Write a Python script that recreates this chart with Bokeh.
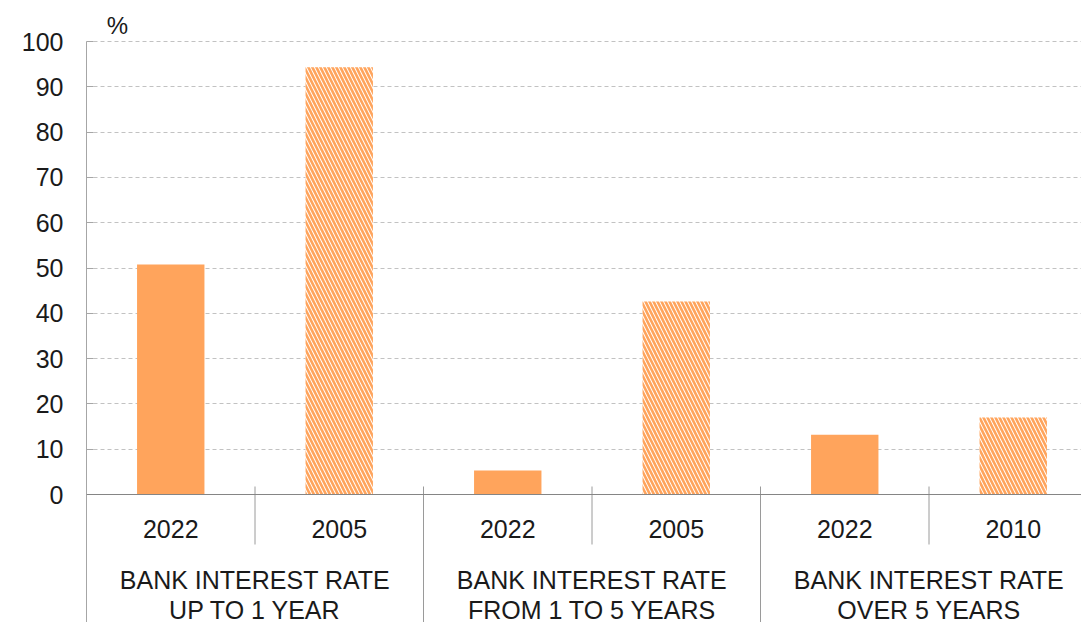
from bokeh.plotting import figure
from bokeh.models import Range1d, FixedTicker, Span, ColumnDataSource
from bokeh.core.properties import value
from bokeh.embed import file_html
from bokeh.resources import INLINE

# ---- data ----
years = ["2022", "2005", "2022", "2005", "2022", "2010"]
values = [50.8, 94.3, 5.3, 42.6, 13.2, 17.0]
hatched = [False, True, False, True, False, True]
groups = ["BANK INTEREST RATE\nUP TO 1 YEAR",
          "BANK INTEREST RATE\nFROM 1 TO 5 YEARS",
          "BANK INTEREST RATE\nOVER 5 YEARS"]
y_ticks = [0, 10, 20, 30, 40, 50, 60, 70, 80, 90, 100]
unit_label = "%"

# ---- layout / style ----
ORANGE = "#FFA45C"
TEXT = "#1a1a1a"
FONT = value("Liberation Sans")
FS = "25px"
PXU = 4.53          # pixels per percentage point
SLOT = 168.5        # pixels per bar slot
W, H = 1081, 622
LEFT = 86
ZERO_PX = 494       # y of value 0 from figure top
y_top = ZERO_PX / PXU
y_bot = -(H - ZERO_PX) / PXU
x_end = (W - LEFT) / SLOT

p = figure(width=W, height=H, output_backend="svg", toolbar_location=None,
           x_range=Range1d(0, x_end), y_range=Range1d(y_bot, y_top),
           x_axis_type=None, min_border_left=LEFT, min_border_right=0,
           min_border_top=0, min_border_bottom=0)
p.outline_line_color = None
p.background_fill_color = "white"
p.border_fill_color = "white"

ax = p.yaxis[0]
ax.ticker = FixedTicker(ticks=y_ticks)
ax.bounds = (y_bot, y_ticks[-1])
ax.axis_line_color = "#a6a6a6"
ax.major_tick_in = 7
ax.major_tick_out = 0
ax.major_tick_line_color = "#a6a6a6"
ax.minor_tick_line_color = None
ax.major_label_standoff = 23
ax.major_label_text_font = "Liberation Sans"
ax.major_label_text_font_size = FS
ax.major_label_text_color = TEXT

p.ygrid.ticker = FixedTicker(ticks=y_ticks[1:])
p.ygrid.grid_line_color = "#c2c2c2"
p.ygrid.grid_line_dash = "4 3"
p.ygrid.grid_line_width = 1

xs = [i + 0.5 for i in range(len(values))]
solid = ColumnDataSource(dict(
    x=[x for x, h in zip(xs, hatched) if not h],
    top=[v for v, h in zip(values, hatched) if not h]))
hatch = ColumnDataSource(dict(
    x=[x for x, h in zip(xs, hatched) if h],
    top=[v for v, h in zip(values, hatched) if h]))

p.vbar(x="x", top="top", bottom=0, width=0.4, source=solid,
       fill_color=ORANGE, line_color=None)
p.vbar(x="x", top="top", bottom=0, width=0.4, source=hatch,
       fill_color="white", line_color=None,
       hatch_pattern="left_diagonal_line", hatch_color=ORANGE,
       hatch_scale=8, hatch_weight=2.6)

p.add_layout(Span(location=0, dimension="width", line_color="#858585", line_width=1))

sep_top = 8 / PXU
year_sep_bot = -50 / PXU
p.segment(x0=[1, 3, 5], x1=[1, 3, 5], y0=sep_top, y1=year_sep_bot,
          line_color="#9a9a9a", line_width=1)
p.segment(x0=[2, 4], x1=[2, 4], y0=sep_top, y1=y_bot,
          line_color="#9a9a9a", line_width=1)

p.text(x=xs, y=-34.5 / PXU, text=years, text_align="center",
       text_baseline="middle", text_font=FONT, text_font_size=FS,
       text_color=TEXT)

gx = [2 * i + 1 for i in range(len(groups))]
line1 = [g.split("\n")[0] for g in groups]
line2 = [g.split("\n")[1] for g in groups]
p.text(x=gx, y=-85 / PXU, text=line1, text_align="center",
       text_baseline="middle", text_font=FONT, text_font_size=FS,
       text_color=TEXT)
p.text(x=gx, y=-115 / PXU, text=line2, text_align="center",
       text_baseline="middle", text_font=FONT, text_font_size=FS,
       text_color=TEXT)

p.text(x=[31 / SLOT], y=[(ZERO_PX - 25) / PXU], text=[unit_label],
       text_align="center", text_baseline="middle", text_font=FONT,
       text_font_size="24px", text_color=TEXT)

open("out.html", "w").write(file_html(p, INLINE))
